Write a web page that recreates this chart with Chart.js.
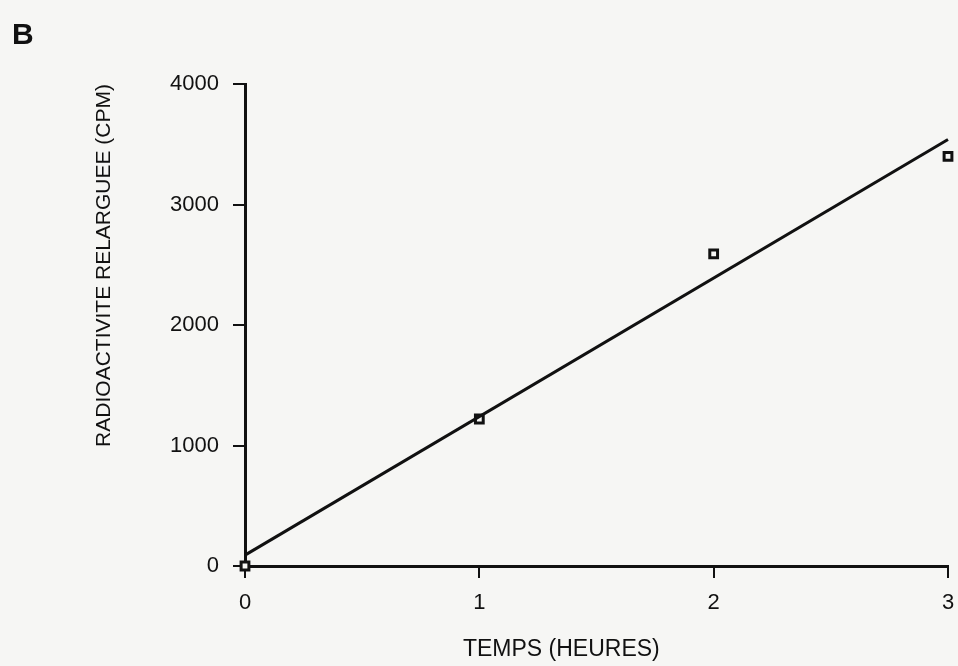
<!DOCTYPE html>
<html>
<head>
<meta charset="utf-8">
<script src="https://cdn.jsdelivr.net/npm/chart.js@4/dist/chart.umd.min.js"></script>
<style>
  html, body { margin: 0; padding: 0; background: #f6f6f4; }
  #wrap { position: relative; width: 958px; height: 666px; }
  #panel {
    position: absolute; left: 12px; top: 19px;
    font: bold 30px "Liberation Sans", Arial, sans-serif; line-height: 30px;
    color: #111;
  }
</style>
</head>
<body>
<div id="wrap">
  <canvas id="chart" width="958" height="666"></canvas>
  <div id="panel">B</div>
</div>
<script>
// Measured points (hours, cpm)
const hours = [0, 1, 2, 3];
const cpm = [0, 1220, 2590, 3400];

// Regression line end points
const fitHours = [0, 3];
const fitCpm = [90, 3540];

const yTicks = [0, 1000, 2000, 3000, 4000];
const xTicks = [0, 1, 2, 3];

const xTitle = 'TEMPS (HEURES)';
const yTitle = 'RADIOACTIVITE RELARGUEE (CPM)';

const fontFamily = '"Liberation Sans", Arial, Helvetica, sans-serif';
const ink = '#111';

// paint the paper colour behind everything
const paper = {
    id: 'paper',
    beforeDraw: function (chart) {
        const ctx = chart.ctx;
        ctx.save();
        ctx.fillStyle = '#f6f6f4';
        ctx.fillRect(0, 0, chart.width, chart.height);
        ctx.restore();
    }
};

// x title sits a bit left of centre in the original figure
const xTitleLabel = {
    id: 'xTitleLabel',
    afterDraw: function (chart) {
        const ctx = chart.ctx;
        const x = chart.scales.x;
        ctx.save();
        ctx.fillStyle = ink;
        ctx.font = '23px ' + fontFamily;
        ctx.textAlign = 'center';
        ctx.textBaseline = 'middle';
        ctx.fillText(xTitle, x.getPixelForValue(1.35), x.bottom - 16);
        ctx.restore();
    }
};

function axisStyle(tickLen) {
    return {
        border: { display: true, color: ink, width: 3 },
        grid: {
            drawOnChartArea: false,
            drawTicks: true,
            tickLength: tickLen,
            color: ink,
            lineWidth: 2
        }
    };
}

new Chart(document.getElementById('chart'), {
    data: {
        datasets: [
            {
                type: 'line',
                data: fitHours.map((h, i) => ({ x: h, y: fitCpm[i] })),
                borderColor: ink,
                borderWidth: 3,
                pointRadius: 0,
                fill: false,
                tension: 0,
                clip: false
            },
            {
                type: 'scatter',
                data: hours.map((h, i) => ({ x: h, y: cpm[i] })),
                pointStyle: 'rect',
                pointRadius: 5.5,
                pointBorderWidth: 3,
                pointBorderColor: ink,
                pointBackgroundColor: '#f6f6f4',
                clip: false
            }
        ]
    },
    options: {
        responsive: false,
        animation: false,
        layout: { padding: { left: 80, right: 10, top: 84, bottom: 0 } },
        plugins: {
            legend: { display: false },
            tooltip: { enabled: false }
        },
        scales: {
            x: Object.assign(axisStyle(12), {
                type: 'linear',
                min: 0,
                max: 3,
                afterBuildTicks: s => { s.ticks = xTicks.map(v => ({ value: v })); },
                afterFit: s => {
                    s.height = 100;
                    s.paddingLeft = 0;
                    s.paddingRight = 0;
                },
                ticks: {
                    color: ink,
                    padding: 12,
                    maxRotation: 0,
                    callback: v => String(v),
                    font: { family: fontFamily, size: 22 }
                },
                title: { display: false }
            }),
            y: Object.assign(axisStyle(12), {
                type: 'linear',
                min: 0,
                max: 4000,
                afterBuildTicks: s => { s.ticks = yTicks.map(v => ({ value: v })); },
                afterFit: s => { s.width = 165; },
                ticks: {
                    color: ink,
                    padding: 14,
                    callback: v => String(v),
                    font: { family: fontFamily, size: 22 }
                },
                title: {
                    display: true,
                    text: yTitle,
                    align: 'end',
                    color: ink,
                    padding: { top: 12, bottom: 10 },
                    font: { family: fontFamily, size: 21 }
                }
            })
        }
    },
    plugins: [paper, xTitleLabel]
});
</script>
</body>
</html>
